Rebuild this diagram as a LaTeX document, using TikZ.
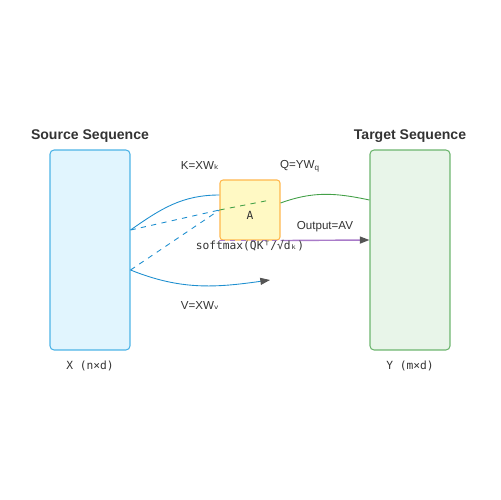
\documentclass[tikz,border=0pt]{standalone}
\usepackage{fontspec}
\setmainfont{Liberation Sans}
\setmonofont{DejaVu Sans Mono}
\newfontfamily\subfont{DejaVu Sans}
\usetikzlibrary{arrows.meta}
\definecolor{txt}{HTML}{333333}
\definecolor{srcfill}{HTML}{E1F5FE}
\definecolor{srcline}{HTML}{4DB3E6}
\definecolor{tgtfill}{HTML}{E8F5E9}
\definecolor{tgtline}{HTML}{6DB56F}
\definecolor{attfill}{HTML}{FFF9C4}
\definecolor{attline}{HTML}{FFB74D}
\definecolor{kvline}{HTML}{1E8FCF}
\definecolor{qline}{HTML}{43A047}
\definecolor{outline}{HTML}{A97BC9}
\definecolor{tip}{HTML}{555555}
\begin{document}
\begin{tikzpicture}[x=0.02cm, y=-0.02cm,
    seqbox/.style={draw, line width=0.6pt, rounded corners=0.08cm, minimum width=1.6cm, minimum height=4cm},
    title/.style={font=\fontsize{8}{9}\selectfont\bfseries, text=txt},
    lbl/.style={font=\fontsize{6.6}{8}\selectfont, text=txt},
    code/.style={font=\fontsize{6.4}{8}\selectfont\ttfamily, text=txt},
    arr/.style={-{Triangle[length=5.5pt,width=4pt,color=tip]}}]
    \useasboundingbox (0,0) rectangle (500,500);
    % sequences
    \node[seqbox, fill=srcfill, draw=srcline] (src) at (90,250) {};
    \node[seqbox, fill=tgtfill, draw=tgtline] (tgt) at (410,250) {};
    \node[title] (srct) at (90,136.5) {Source Sequence};
    \node[title] (tgtt) at (410,136.5) {Target Sequence};
    \node[code] (srcn) at (90,366) {X (n×d)};
    \node[code] (tgtn) at (410,366) {Y (m×d)};
    % attention
    \node[draw=attline, fill=attfill, line width=0.6pt, rounded corners=0.06cm,
          minimum width=1.2cm, minimum height=1.2cm] (att) at (250,210) {};
    \node[code] (attl) at (250,215) {A};
    \coordinate (vend) at (270,280);
    \draw[kvline, line width=0.5pt] ([yshift=0.4cm]src.east) to[out=35,in=180] ([yshift=0.3cm]att.west);
    \draw[kvline, line width=0.5pt, dashed] ([yshift=0.4cm]src.east) -- (att.west);
    \draw[kvline, line width=0.5pt, dashed] ([yshift=-0.4cm]src.east) -- (att.west);
    \draw[kvline, line width=0.5pt, arr] ([yshift=-0.4cm]src.east) to[out=-22,in=188] (vend);
    \draw[qline, line width=0.5pt] ([yshift=0.14cm]att.east) to[out=20,in=168] ([yshift=1cm]tgt.west);
    \draw[qline, line width=0.5pt, dashed] (att.west) -- ([xshift=-0.2cm,yshift=0.2cm]att.east);
    \draw[outline, line width=0.8pt, dashed] (att.south west) -- (att.south east);
    \draw[outline, line width=0.8pt, arr] (att.south east) -- ([yshift=0.2cm]tgt.west);
    % labels
    \node[lbl] (kl) at (200,166) {K=XW{\subfont ₖ}};
    \node[lbl] (ql) at (300,166) {Q=YW\textsubscript{q}};
    \node[lbl] (vl) at (200,306) {V=XW{\subfont ᵥ}};
    \node[lbl] (ol) at (325,227) {Output=AV};
    \node[code] (sm) at (250,246) {softmax(QKᵀ/√dₖ)};
\end{tikzpicture}
\end{document}
